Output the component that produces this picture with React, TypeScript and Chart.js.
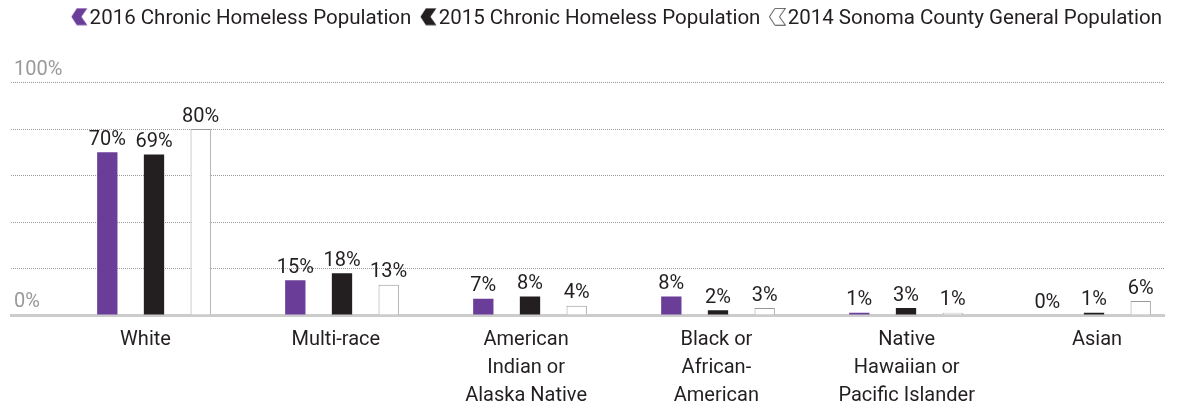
import React, { useEffect, useRef } from 'react';
import { Chart, registerables } from 'chart.js';

Chart.register(...registerables);

// ---- data ----
const CATEGORIES: string[][] = [
  ['White'],
  ['Multi-race'],
  ['American', 'Indian or', 'Alaska Native'],
  ['Black or', 'African-', 'American'],
  ['Native', 'Hawaiian or', 'Pacific Islander'],
  ['Asian'],
];
const SERIES_NAMES = [
  '2016 Chronic Homeless Population',
  '2015 Chronic Homeless Population',
  '2014 Sonoma County General Population',
];
const VALUES_2016 = [70, 15, 7, 8, 1, 0];
const VALUES_2015 = [69, 18, 8, 2, 3, 1];
const VALUES_2014 = [80, 13, 4, 3, 1, 6];
const Y_TICKS = [0, 20, 40, 60, 80, 100];
const Y_LABELED = [0, 100];

const PURPLE = '#6a3d98';
const BLACK = '#231f20';
const TEXT = '#231f20';
const GRAY = '#999999';

function chevron(fill: string, stroke: string | null) {
  const c = document.createElement('canvas');
  c.width = 21;
  c.height = 22;
  const ctx = c.getContext('2d')!;
  ctx.beginPath();
  ctx.moveTo(4.5, 9);
  ctx.lineTo(10, 0.5);
  ctx.lineTo(20.5, 0.5);
  ctx.lineTo(14.5, 9);
  ctx.lineTo(20.5, 17.5);
  ctx.lineTo(10, 17.5);
  ctx.closePath();
  ctx.fillStyle = fill;
  ctx.fill();
  if (stroke) {
    ctx.strokeStyle = stroke;
    ctx.lineWidth = 1;
    ctx.stroke();
  }
  return c;
}

const intTicks = (s: any) => {
  s.ticks = CATEGORIES.map((_, i) => ({ value: i }));
};

const valueLabels = {
  id: 'valueLabels',
  afterDatasetsDraw(chart: any) {
    const ctx = chart.ctx;
    ctx.save();
    ctx.font = '20px Roboto';
    ctx.fillStyle = TEXT;
    ctx.textAlign = 'center';
    ctx.textBaseline = 'alphabetic';
    chart.data.datasets.forEach((ds: any, di: number) => {
      const meta = chart.getDatasetMeta(di);
      meta.data.forEach((bar: any, i: number) => {
        const v = ds.data[i].y;
        ctx.fillText(v + '%', bar.x, bar.y - 7.5);
      });
    });
    ctx.restore();
  },
};

export default function App() {
  const ref = useRef<HTMLCanvasElement>(null);

  useEffect(() => {
    const markers = [chevron(PURPLE, null), chevron(BLACK, null), chevron('#ffffff', '#444444')];
    const toPoints = (arr: number[]) => arr.map((v, i) => ({ x: i, y: v }));

    const chart = new Chart(ref.current!, {
      type: 'bar',
      data: {
        datasets: [
          { label: SERIES_NAMES[0], data: toPoints(VALUES_2016), backgroundColor: PURPLE, borderWidth: 0 },
          { label: SERIES_NAMES[1], data: toPoints(VALUES_2015), backgroundColor: BLACK, borderWidth: 0 },
          { label: SERIES_NAMES[2], data: toPoints(VALUES_2014), backgroundColor: '#ffffff', borderColor: '#999999', borderWidth: 1 },
        ] as any,
      },
      options: {
        responsive: false,
        animation: false,
        events: [],
        categoryPercentage: 0.745,
        barPercentage: 0.435,
        layout: { padding: { top: -4.55, right: 8, bottom: 0, left: 0 } },
        plugins: {
          tooltip: { enabled: false },
          legend: {
            display: true,
            position: 'top',
            align: 'end',
            labels: {
              usePointStyle: true,
              pointStyleWidth: 4,
              padding: 13,
              color: TEXT,
              font: { size: 20.5, family: 'Roboto' },
              generateLabels: (c: any) =>
                c.data.datasets.map((ds: any, i: number) => ({
                  text: ds.label,
                  pointStyle: markers[i],
                  fillStyle: ds.backgroundColor,
                  strokeStyle: ds.backgroundColor,
                  lineWidth: 0,
                  hidden: false,
                  datasetIndex: i,
                  fontColor: TEXT,
                })),
            },
          },
        },
        scales: {
          x: {
            type: 'linear',
            position: 'top',
            offset: false,
            min: -0.7606,
            max: 5.3723,
            grid: { display: false, drawTicks: false, offset: false },
            border: { display: false },
            ticks: { display: false },
            afterBuildTicks: intTicks,
            afterFit: (s: any) => {
              s.height = 43.55;
            },
          },
          xLabels: {
            type: 'linear',
            position: 'bottom',
            offset: false,
            min: -0.7068,
            max: 5.3521,
            grid: { display: false, drawTicks: false, offset: false },
            border: { display: true, color: '#cccccc', width: 3 },
            ticks: {
              color: TEXT,
              font: { size: 20, family: 'Roboto', lineHeight: 1.42 },
              padding: 10.4,
              maxRotation: 0,
              autoSkip: false,
              callback: (v: any) => CATEGORIES[v] ?? '',
            },
            afterBuildTicks: intTicks,
            afterFit: (s: any) => {
              s.height = 95;
            },
          },
          y: {
            type: 'linear',
            position: 'left',
            min: 0,
            max: 100,
            afterBuildTicks: (s: any) => {
              s.ticks = Y_TICKS.map((v) => ({ value: v }));
            },
            grid: {
              color: (ctx: any) => (ctx.tick && ctx.tick.value === 0 ? 'rgba(0,0,0,0)' : GRAY),
              lineWidth: 1,
              drawTicks: false,
            },
            border: { display: false, dash: [1, 1] },
            ticks: {
              mirror: true,
              padding: 3,
              labelOffset: -13,
              color: GRAY,
              font: { size: 20, family: 'Roboto' },
              callback: (v: any) => (Y_LABELED.includes(v) ? v + '%' : ''),
            },
            afterFit: (s: any) => {
              s.width = 11;
            },
          },
          yRight: {
            type: 'linear',
            position: 'right',
            grid: { display: false, drawTicks: false },
            border: { display: false },
            ticks: { display: false },
            afterFit: (s: any) => {
              s.width = 11;
            },
          },
        },
      } as any,
      plugins: [valueLabels],
    });
    return () => chart.destroy();
  }, []);

  return (
    <div style={{ position: 'absolute', left: 0, top: 0, width: 1183, height: 410 }}>
      <canvas ref={ref} width={1183} height={410} style={{ display: 'block', width: 1183, height: 410 }} />
    </div>
  );
}
